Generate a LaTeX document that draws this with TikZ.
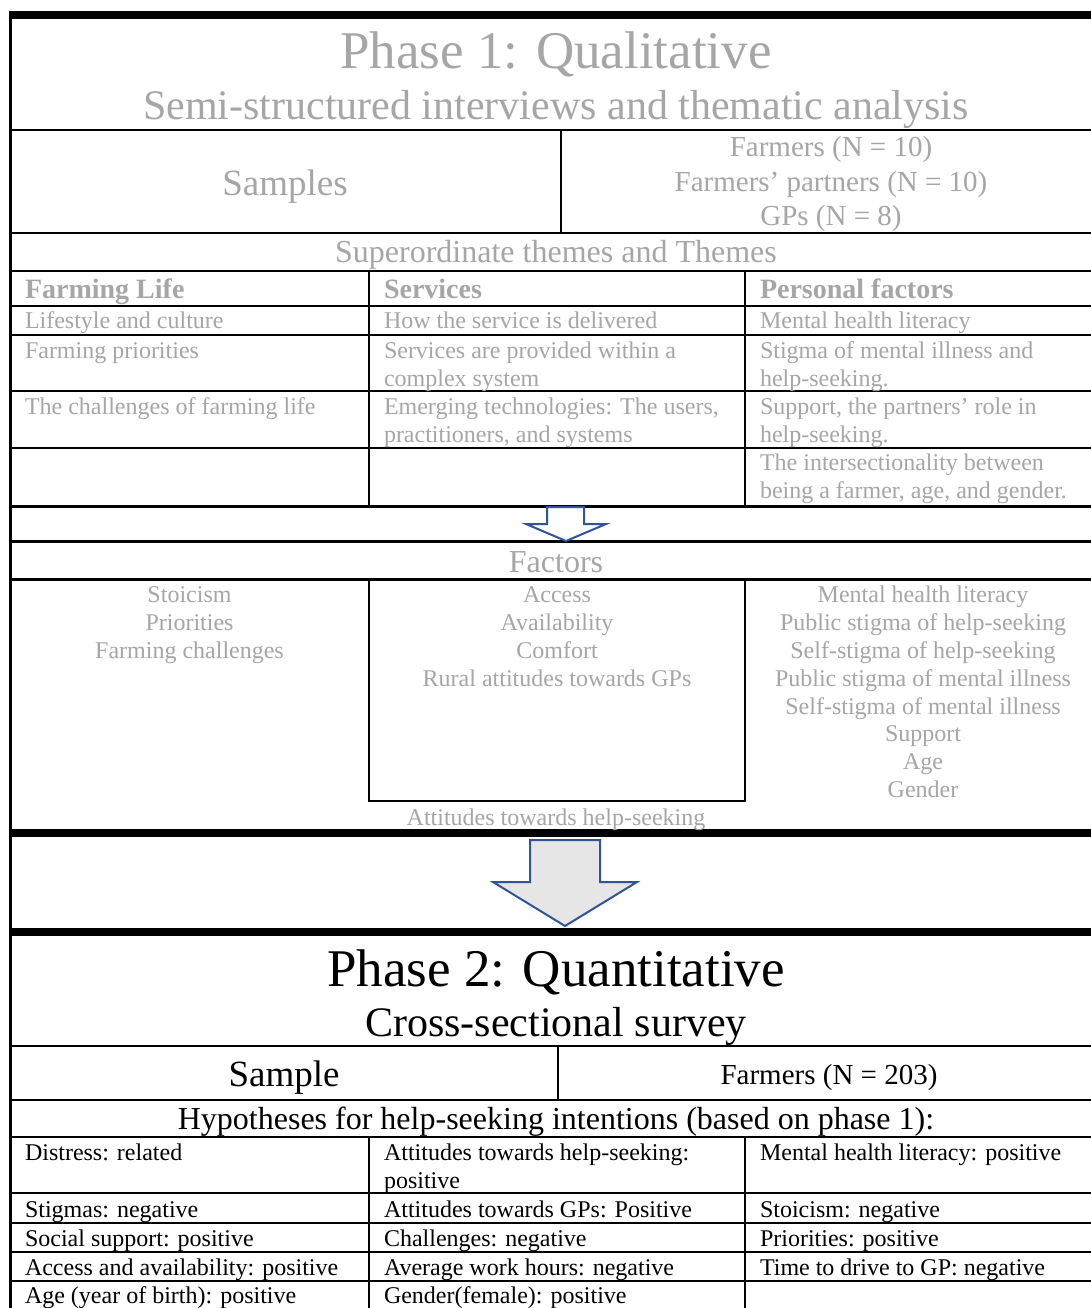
\documentclass[tikz,border=0pt]{standalone}
\usepackage{fontspec}
\setmainfont{Liberation Serif}
\definecolor{txtgray}{RGB}{166,166,166}
\definecolor{arrowblue}{RGB}{47,85,151}
\definecolor{arrowfill}{RGB}{230,230,230}
\tikzset{
  rule/.style={line width=2.4pt, line cap=butt},
  midrule/.style={line width=3pt, line cap=butt},
  heavyrule/.style={line width=8pt, line cap=butt},
  txt/.style={inner sep=0pt, outer sep=0pt},
  lbl/.style={txt, anchor=base west},
  ctr/.style={txt, anchor=base},
  gray24/.style={text=txtgray, font=\fontsize{24}{27.6}\selectfont},
  black24/.style={text=black, font=\fontsize{24}{27.6}\selectfont},
  head28/.style={text=txtgray, font=\bfseries\fontsize{28}{32}\selectfont},
  blockarrow/.style={draw=arrowblue, line width=2pt, line join=miter},
}
\begin{document}
\begin{tikzpicture}[x=1pt,y=-1pt]
\useasboundingbox (0,0) rectangle (1091,1308);
\fill[white] (0,0) rectangle (1091,1308);

% ---------------- Phase 1 frame ----------------
\draw[heavyrule] (9,15) -- (1091,15);
\draw[line width=3pt] (10.5,11) -- (10.5,1308);
\draw[rule] (9,130) -- (1091,130);
\draw[rule] (9,233) -- (1091,233);
\draw[rule] (561,130) -- (561,233);
\draw[rule] (9,271) -- (1091,271);
\draw[rule] (9,306) -- (1091,306);
\draw[rule] (9,335) -- (1091,335);
\draw[rule] (9,391) -- (1091,391);
\draw[rule] (9,448) -- (1091,448);
\draw[midrule] (9,506) -- (1091,506);
\draw[rule] (369,271) -- (369,506);
\draw[rule] (745,271) -- (745,506);
\draw[midrule] (9,541) -- (1091,541);
\draw[midrule] (9,579) -- (1091,579);
\draw[rule] (369,579) -- (369,801) -- (745,801) -- (745,579);
\draw[heavyrule] (9,833) -- (1091,833);
\draw[heavyrule] (9,931.5) -- (1091,931.5);

% titles
\node[ctr, text=txtgray, font=\fontsize{53}{60}\selectfont] (p1title) at (556,69) {Phase 1: Qualitative};
\node[ctr, text=txtgray, font=\fontsize{42}{48}\selectfont] (p1sub) at (556,120) {Semi-structured interviews and thematic analysis};

% samples
\node[ctr, text=txtgray, font=\fontsize{37}{42}\selectfont] (samples) at (285,196) {Samples};
\node[ctr, text=txtgray, font=\fontsize{29}{33.4}\selectfont] (smpA) at (831,157) {Farmers (N = 10)};
\node[ctr, text=txtgray, font=\fontsize{29}{33.4}\selectfont] (smpB) at (831,191) {Farmers’ partners (N = 10)};
\node[ctr, text=txtgray, font=\fontsize{29}{33.4}\selectfont] (smpC) at (831,225) {GPs (N = 8)};

\node[ctr, text=txtgray, font=\fontsize{32}{36}\selectfont] (super) at (556,262) {Superordinate themes and Themes};

% theme headers
\node[lbl, head28] (hA) at (25,298) {Farming Life};
\node[lbl, head28] (hB) at (384,298) {Services};
\node[lbl, head28] (hC) at (760,298) {Personal factors};

% theme rows
\node[lbl, gray24] (a1) at (25,328) {Lifestyle and culture};
\node[lbl, gray24] (a2) at (25,358) {Farming priorities};
\node[lbl, gray24] (a3) at (25,414) {The challenges of farming life};

\node[lbl, gray24] (b1) at (384,328) {How the service is delivered};
\node[lbl, gray24] (b2) at (384,358) {Services are provided within a};
\node[lbl, gray24] (b2x) at (384,386) {complex system};
\node[lbl, gray24] (b3) at (384,414) {Emerging technologies: The users,};
\node[lbl, gray24] (b3x) at (384,442) {practitioners, and systems};

\node[lbl, gray24] (c1) at (760,328) {Mental health literacy};
\node[lbl, gray24] (c2) at (760,358) {Stigma of mental illness and};
\node[lbl, gray24] (c2x) at (760,386) {help-seeking.};
\node[lbl, gray24] (c3) at (760,414) {Support, the partners’ role in};
\node[lbl, gray24] (c3x) at (760,442) {help-seeking.};
\node[lbl, gray24] (c4) at (760,470) {The intersectionality between};
\node[lbl, gray24] (c4x) at (760,498) {being a farmer, age, and gender.};

% small transition arrow
\filldraw[blockarrow, fill=white] (547,507) -- (584,507) -- (584,524) -- (606,524)
  -- (566,541) -- (526,524) -- (547,524) -- cycle;

% factors
\node[ctr, text=txtgray, font=\fontsize{32}{36}\selectfont] (factors) at (556,572) {Factors};

\node[ctr, gray24] (fa1) at (189.5,602) {Stoicism};
\node[ctr, gray24] (fa2) at (189.5,630) {Priorities};
\node[ctr, gray24] (fa3) at (189.5,658) {Farming challenges};

\node[ctr, gray24] (fb1) at (557,602) {Access};
\node[ctr, gray24] (fb2) at (557,630) {Availability};
\node[ctr, gray24] (fb3) at (557,658) {Comfort};
\node[ctr, gray24] (fb4) at (557,686) {Rural attitudes towards GPs};

\node[ctr, gray24] (fc1) at (923,602) {Mental health literacy};
\node[ctr, gray24] (fc2) at (923,630) {Public stigma of help-seeking};
\node[ctr, gray24] (fc3) at (923,658) {Self-stigma of help-seeking};
\node[ctr, gray24] (fc4) at (923,686) {Public stigma of mental illness};
\node[ctr, gray24] (fc5) at (923,714) {Self-stigma of mental illness};
\node[ctr, gray24] (fc6) at (923,741) {Support};
\node[ctr, gray24] (fc7) at (923,769) {Age};
\node[ctr, gray24] (fc8) at (923,797) {Gender};

\node[ctr, gray24] (attit) at (556,825) {Attitudes towards help-seeking};

% main transition arrow
\filldraw[blockarrow, fill=arrowfill] (530,840) -- (600,840) -- (600,882) -- (637,882)
  -- (565,926) -- (493,882) -- (530,882) -- cycle;

% ---------------- Phase 2 ----------------
\node[ctr, font=\fontsize{53}{60}\selectfont] (p2title) at (556,986) {Phase 2: Quantitative};
\node[ctr, font=\fontsize{42}{48}\selectfont] (p2sub) at (556,1036) {Cross-sectional survey};

\draw[rule] (9,1046) -- (1091,1046);
\draw[rule] (558,1046) -- (558,1100);
\draw[rule] (9,1100) -- (1091,1100);
\draw[rule] (9,1137) -- (1091,1137);
\draw[rule] (9,1193) -- (1091,1193);
\draw[rule] (9,1223) -- (1091,1223);
\draw[rule] (9,1252) -- (1091,1252);
\draw[rule] (9,1281) -- (1091,1281);
\draw[rule] (369,1137) -- (369,1308);
\draw[rule] (745,1137) -- (745,1308);

\node[ctr, font=\fontsize{37}{42}\selectfont] (sample) at (284,1086) {Sample};
\node[ctr, font=\fontsize{29}{33.4}\selectfont] (farm203) at (829,1084) {Farmers (N = 203)};
\node[ctr, font=\fontsize{32}{36}\selectfont] (hyp) at (556,1129) {Hypotheses for help-seeking intentions (based on phase 1):};

\node[lbl, black24] (d1) at (25,1160) {Distress: related};
\node[lbl, black24] (d2) at (25,1217) {Stigmas: negative};
\node[lbl, black24] (d3) at (25,1246) {Social support: positive};
\node[lbl, black24] (d4) at (25,1275) {Access and availability: positive};
\node[lbl, black24] (d5) at (25,1303) {Age (year of birth): positive};

\node[lbl, black24] (e1) at (384,1160) {Attitudes towards help-seeking:};
\node[lbl, black24] (e1x) at (384,1188) {positive};
\node[lbl, black24] (e2) at (384,1217) {Attitudes towards GPs: Positive};
\node[lbl, black24] (e3) at (384,1246) {Challenges: negative};
\node[lbl, black24] (e4) at (384,1275) {Average work hours: negative};
\node[lbl, black24] (e5) at (384,1303) {Gender(female): positive};

\node[lbl, black24] (g1) at (760,1160) {Mental health literacy: positive};
\node[lbl, black24] (g2) at (760,1217) {Stoicism: negative};
\node[lbl, black24] (g3) at (760,1246) {Priorities: positive};
\node[lbl, black24] (g4) at (760,1275) {Time to drive to GP: negative};
\end{tikzpicture}
\end{document}
